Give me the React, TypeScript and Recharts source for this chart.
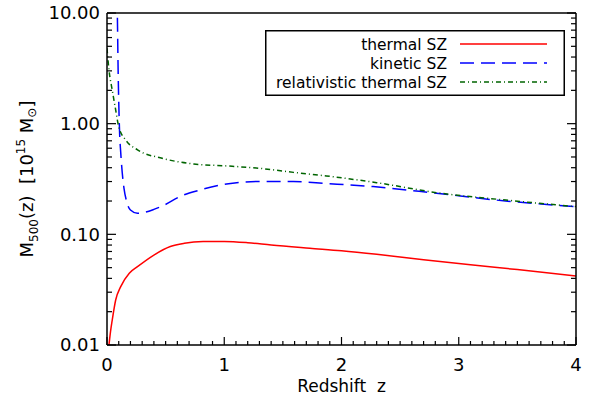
import React from 'react';
import { LineChart, Line, XAxis, YAxis, Legend } from 'recharts';

// ---- data ----
const thermalZ = [0.012, 0.017, 0.03, 0.045, 0.074, 0.117, 0.19, 0.26, 0.4, 0.54, 0.66, 0.82, 1.0, 1.2, 1.4, 1.73, 2.0, 2.3, 2.7, 3.1, 3.5, 4.0];
const thermalM = [0.0092, 0.0101, 0.0132, 0.0169, 0.0255, 0.0337, 0.0445, 0.051, 0.065, 0.0776, 0.083, 0.086, 0.0862, 0.084, 0.08, 0.0748, 0.071, 0.066, 0.059, 0.053, 0.048, 0.042];

const kineticZ = [0.085, 0.088, 0.095, 0.102, 0.108, 0.117, 0.13, 0.145, 0.168, 0.2, 0.26, 0.4, 0.49, 0.62, 0.79, 1.02, 1.3, 1.59, 1.87, 2.27, 2.81, 3.38, 4.0];
const kineticM = [14, 10, 3.0, 1.3, 0.8, 0.55, 0.36, 0.26, 0.197, 0.166, 0.155, 0.168, 0.184, 0.219, 0.251, 0.285, 0.3, 0.3, 0.288, 0.27, 0.235, 0.201, 0.178];

const relZ = [0.0, 0.017, 0.045, 0.074, 0.1, 0.16, 0.26, 0.47, 0.74, 1.02, 1.3, 1.59, 1.87, 2.3, 2.81, 3.38, 4.0];
const relM = [4.8, 3.05, 2.0, 1.33, 0.94, 0.71, 0.58, 0.487, 0.432, 0.415, 0.395, 0.363, 0.337, 0.293, 0.238, 0.205, 0.178];

const seriesNames = ['thermal SZ', 'kinetic SZ', 'relativistic thermal SZ'];
const seriesColors = ['#ff0000', '#0000ff', '#006400'];
const seriesDash = ['', '14 7', '5 3 1 3'];

const xMajorTicks = [0, 1, 2, 3, 4];
const xAllTicks: number[] = [];
for (let i = 0; i <= 40; i++) xAllTicks.push(i / 10);
const yMajorTicks = [0.01, 0.1, 1, 10];
const yAllTicks: number[] = [];
[0.01, 0.1, 1].forEach((d) => { for (let k = 1; k <= 9; k++) yAllTicks.push(d * k); });
yAllTicks.push(10);

const isMajorX = (v: number) => xMajorTicks.some((t) => Math.abs(t - v) < 1e-6);
const isMajorY = (v: number) => yMajorTicks.some((t) => Math.abs(t - v) / t < 1e-6);

const thermalData = thermalZ.map((z, i) => ({ z, m: thermalM[i] }));
const kineticData = kineticZ.map((z, i) => ({ z, m: kineticM[i] }));
const relData = relZ.map((z, i) => ({ z, m: relM[i] }));

const FONT = 'DejaVu Sans';
const W = 596;
const H = 396;
const TICK_STROKE = '#000';

const YLabel = () => (
  <text transform="translate(33,179) rotate(-90)" textAnchor="middle" fontFamily={FONT} fontSize={18} fill="#000" style={{ whiteSpace: 'pre' }}>
    M<tspan fontSize={12} dy={5}>500</tspan><tspan dy={-5}>{'(z)  [10'}</tspan><tspan fontSize={12} dy={-8}>15</tspan><tspan dy={8}>{' M'}</tspan><tspan fontSize={12} dy={3}>⊙</tspan><tspan dy={-3}>]</tspan>
  </text>
);

const XLabel = () => (
  <text x={341.5} y={391.5} textAnchor="middle" fontFamily={FONT} fontSize={17} fill="#000" style={{ whiteSpace: 'pre' }}>
    {'Redshift  z'}
  </text>
);

const LegendBox = () => (
  <svg width={300} height={66} style={{ display: 'block' }}>
    <rect x={0.75} y={0.75} width={298.5} height={64.5} fill="#fff" stroke="#000" strokeWidth={1.5} />
    {seriesNames.map((n, i) => (
      <g key={n}>
        <text x={182} y={14 + i * 19 + 5.5} textAnchor="end" fontFamily={FONT} fontSize={15.5} fill="#000">{n}</text>
        <line x1={195} x2={282} y1={14 + i * 19} y2={14 + i * 19} stroke={seriesColors[i]} strokeWidth={1.5} strokeDasharray={seriesDash[i] || undefined} />
      </g>
    ))}
  </svg>
);

const BottomTick = (props: any) => {
  const { x, y, payload } = props;
  const major = isMajorX(payload.value);
  return (
    <g>
      <line x1={x} x2={x} y1={y} y2={y - (major ? 8 : 4)} stroke={TICK_STROKE} strokeWidth={1.2} />
      {major && (
        <text x={x} y={y + 26} textAnchor="middle" fontFamily={FONT} fontSize={18} fill="#000">{String(payload.value)}</text>
      )}
    </g>
  );
};

const TopTick = (props: any) => {
  const { x, y, payload } = props;
  const major = isMajorX(payload.value);
  return <line x1={x} x2={x} y1={y} y2={y + (major ? 8 : 4)} stroke={TICK_STROKE} strokeWidth={1.2} />;
};

const LeftTick = (props: any) => {
  const { x, y, payload } = props;
  const major = isMajorY(payload.value);
  return (
    <g>
      <line x1={x} x2={x + (major ? 9 : 5)} y1={y} y2={y} stroke={TICK_STROKE} strokeWidth={1.2} />
      {major && (
        <text x={x - 7} y={y} dy="0.36em" textAnchor="end" fontFamily={FONT} fontSize={18} fill="#000">{Number(payload.value).toFixed(2)}</text>
      )}
    </g>
  );
};

const RightTick = (props: any) => {
  const { x, y, payload } = props;
  const major = isMajorY(payload.value);
  return <line x1={x} x2={x - (major ? 9 : 5)} y1={y} y2={y} stroke={TICK_STROKE} strokeWidth={1.2} />;
};

const frameLine = { stroke: '#000', strokeWidth: 1.5 };

export default function App() {
  return (
    <div style={{ position: 'absolute', left: 0, top: 0, width: W, height: H, background: '#fff' }}>
      <LineChart width={W} height={H} margin={{ top: 12, right: 19, bottom: 0, left: 0 }}>
        <XAxis dataKey="z" type="number" domain={[0, 4]} allowDataOverflow ticks={xAllTicks} interval={0} height={51} tickSize={0} tickMargin={0} tickLine={false} axisLine={frameLine} tick={<BottomTick />} label={{ content: () => <XLabel /> }} />
        <XAxis xAxisId="top" orientation="top" type="number" domain={[0, 4]} allowDataOverflow ticks={xAllTicks} interval={0} height={1} tickSize={0} tickMargin={0} tickLine={false} axisLine={frameLine} tick={<TopTick />} />
        <YAxis scale="log" type="number" domain={[0.01, 10]} allowDataOverflow ticks={yAllTicks} interval={0} width={107} tickSize={0} tickMargin={0} tickLine={false} axisLine={frameLine} tick={<LeftTick />} label={{ content: () => <YLabel /> }} />
        <YAxis yAxisId="right" orientation="right" scale="log" type="number" domain={[0.01, 10]} allowDataOverflow ticks={yAllTicks} interval={0} width={1} tickSize={0} tickMargin={0} tickLine={false} axisLine={frameLine} tick={<RightTick />} />

        <Line data={thermalData} dataKey="m" name={seriesNames[0]} type="monotone" stroke={seriesColors[0]} strokeWidth={1.5} dot={false} isAnimationActive={false} />
        <Line data={kineticData} dataKey="m" name={seriesNames[1]} type="monotone" stroke={seriesColors[1]} strokeWidth={1.5} strokeDasharray={seriesDash[1]} dot={false} isAnimationActive={false} />
        <Line data={relData} dataKey="m" name={seriesNames[2]} type="monotone" stroke={seriesColors[2]} strokeWidth={1.5} strokeDasharray={seriesDash[2]} dot={false} isAnimationActive={false} />

        <Legend layout="horizontal" verticalAlign="middle" align="center" wrapperStyle={{ position: 'absolute', left: 265, top: 30, width: 300, height: 66 }} content={() => <LegendBox />} />
      </LineChart>
    </div>
  );
}
